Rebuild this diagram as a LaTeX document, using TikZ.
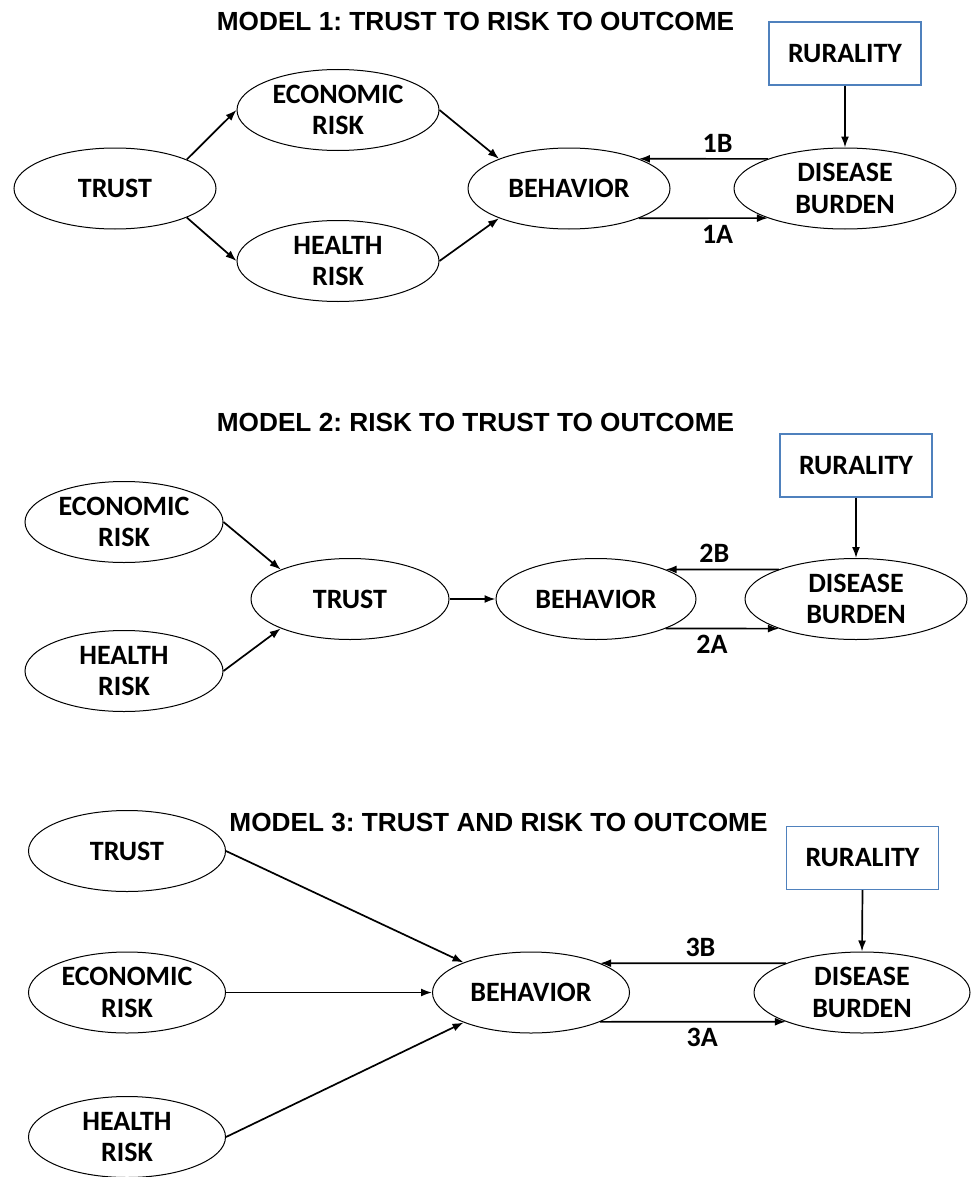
\documentclass[tikz,border=0pt]{standalone}
\usepackage{fontspec}
\newfontfamily\nodefont{Carlito}
\newfontfamily\titlefont{Liberation Sans}
\definecolor{ruralblue}{RGB}{79,129,189}
\usetikzlibrary{shapes.geometric,arrows.meta}
\frenchspacing

\begin{document}
\begin{tikzpicture}[x=0.5pt,y=-0.5pt,
        var/.style={ellipse,draw,line width=0.5pt,inner sep=0pt,minimum width=101pt,minimum height=40.5pt,
            align=center,font=\nodefont\bfseries\fontsize{14}{15.8}\selectfont},
        box/.style={rectangle,draw=ruralblue,line width=0.6pt,inner sep=0pt,minimum width=76pt,minimum height=31.5pt,
            font=\nodefont\bfseries\fontsize{14}{15.8}\selectfont},
        title/.style={font=\titlefont\bfseries\fontsize{13.1}{15}\selectfont},
        lab/.style={inner sep=3pt,font=\nodefont\bfseries\fontsize{14}{15.8}\selectfont},
        link/.style={-{Latex[length=5.5pt,width=4pt]},line width=0.85pt}]
    \useasboundingbox (0,0) rectangle (971,1177);
    %% model 1
    \node[title] (title1) at (475.5,21.5) {MODEL 1: TRUST TO RISK TO OUTCOME};
    \node[box] (rur1) at (845,53.5) {RURALITY};
    \node[var] (trust1) at (115,188.5) {TRUST};
    \node[var] (econ1) at (338,110) {ECONOMIC\\RISK};
    \node[var] (health1) at (338,261) {HEALTH\\RISK};
    \node[var] (beh1) at (569,188.5) {BEHAVIOR};
    \node[var,minimum width=111pt] (dis1) at (845,188.5) {DISEASE\\BURDEN};
    \draw[link] (trust1.22) -- (econ1.west);
    \draw[link] (trust1.-22) -- (health1.west);
    \draw[link] (econ1.east) -- (beh1.157);
    \draw[link] (health1.east) -- (beh1.-157);
    \draw[link] (dis1.159) -- (beh1.23) node[lab,pos=0.39,above] (l1b) {1B};
    \draw[link] (beh1.-23) -- (dis1.-159) node[lab,pos=0.61,below] (l1a) {1A};
    \draw[link] (rur1.south) -- (dis1.north);
    %% model 2
    \node[title] (title2) at (475.5,422.5) {MODEL 2: RISK TO TRUST TO OUTCOME};
    \node[box] (rur2) at (856,465.5) {RURALITY};
    \node[var,minimum width=99pt] (econ2) at (124,522) {ECONOMIC\\RISK};
    \node[var,minimum width=99pt] (health2) at (124,671) {HEALTH\\RISK};
    \node[var,minimum width=99pt] (trust2) at (350,599) {TRUST};
    \node[var,minimum width=100pt] (beh2) at (596,599) {BEHAVIOR};
    \node[var,minimum width=111pt] (dis2) at (856,599) {DISEASE\\BURDEN};
    \draw[link] (econ2.east) -- (trust2.157);
    \draw[link] (health2.east) -- (trust2.-157);
    \draw[link] (trust2.east) -- (beh2.west);
    \draw[link] (dis2.159) -- (beh2.23) node[lab,pos=0.57,above] (l2b) {2B};
    \draw[link] (beh2.-23) -- (dis2.-159) node[lab,pos=0.41,below] (l2a) {2A};
    \draw[link] (rur2.south) -- (dis2.north);
    %% model 3
    \node[title] (title3) at (498.5,822) {MODEL 3: TRUST AND RISK TO OUTCOME};
    \node[box] (rur3) at (862.5,858) {RURALITY};
    \node[var,minimum width=98.5pt] (trust3) at (127,851) {TRUST};
    \node[var,minimum width=98.5pt] (econ3) at (127,992.5) {ECONOMIC\\RISK};
    \node[var,minimum width=98.5pt] (health3) at (127,1137) {HEALTH\\RISK};
    \node[var,minimum width=98.5pt] (beh3) at (531,992.5) {BEHAVIOR};
    \node[var,minimum width=108pt] (dis3) at (862,992.5) {DISEASE\\BURDEN};
    \draw[link] (trust3.east) -- (beh3.156);
    \draw[link] (econ3.east) -- (beh3.west);
    \draw[link] (health3.east) -- (beh3.-156);
    \draw[link] (dis3.159) -- (beh3.23) node[lab,pos=0.46,above] (l3b) {3B};
    \draw[link] (beh3.-23) -- (dis3.-159) node[lab,pos=0.55,below] (l3a) {3A};
    \draw[link] (rur3.south) -- (dis3.north);
\end{tikzpicture}
\end{document}
